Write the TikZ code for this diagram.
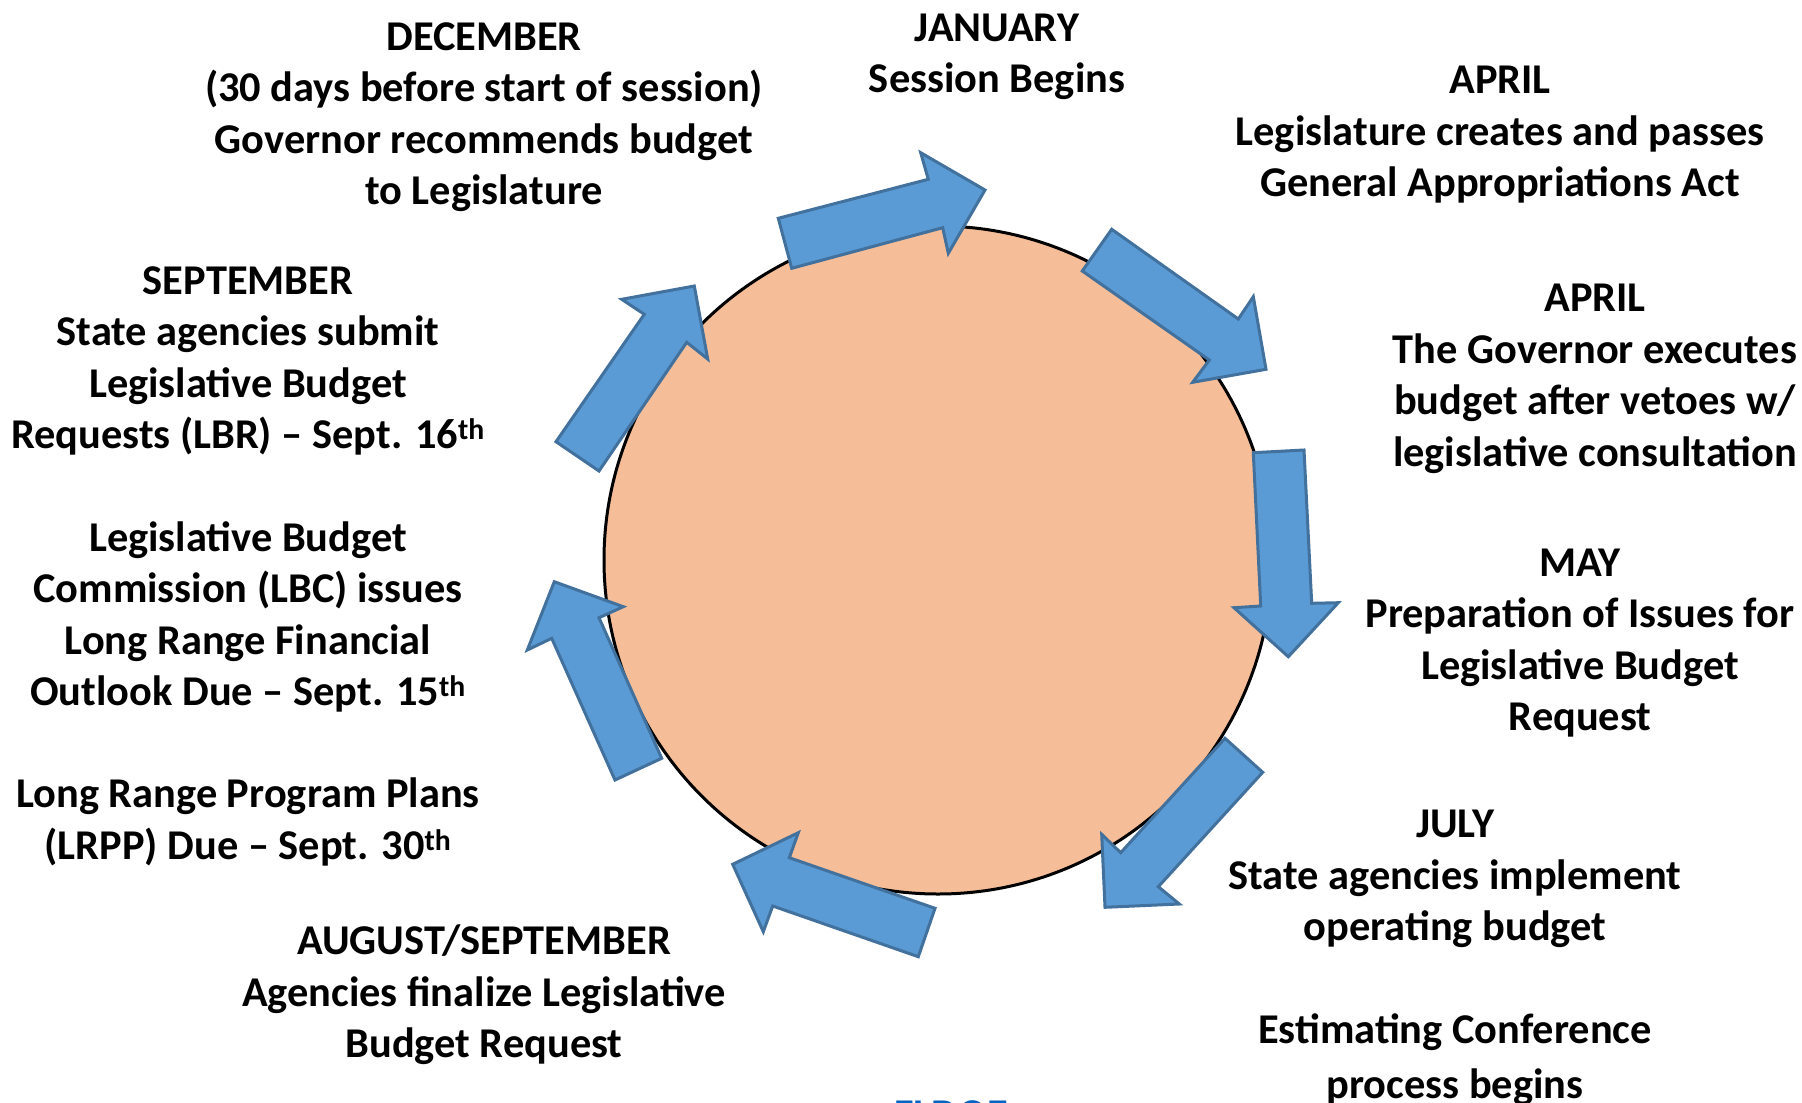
\documentclass[tikz,border=0pt]{standalone}
\usepackage{fontspec}
\setmainfont{Carlito}
\definecolor{peach}{HTML}{F6BE98}
\definecolor{arrowblue}{HTML}{5B9BD5}
\definecolor{arrowedge}{HTML}{41719C}
\definecolor{linkblue}{HTML}{0563C1}
\begin{document}
\begin{tikzpicture}[x=1pt,y=-1pt,
  blockarrow/.style={fill=arrowblue,draw=arrowedge,line width=3pt,line join=miter},
  label/.style={align=center,inner sep=0pt,font=\fontsize{42.4}{51.5}\selectfont\bfseries}]
\useasboundingbox[fill=white] (0,0) rectangle (1802,1103);
% central circle
\node[circle,fill=peach,draw=black,line width=3pt,minimum size=668pt,inner sep=0pt] (cyc) at (938,560) {};
% arrows
\draw[blockarrow] (791.7,268.3) -- (778.3,218.3) -- (928.3,179.3) -- (920.7,152.7) -- (985,190) -- (948.3,253.3) -- (942.7,227.7) -- cycle;
\draw[blockarrow] (1111.7,229.3) -- (1082.3,271) -- (1209.3,360) -- (1192.7,382.3) -- (1266,369.3) -- (1253.3,296.7) -- (1238.3,319) -- cycle;
\draw[blockarrow] (1253.3,452.7) -- (1304,450) -- (1311.7,603.3) -- (1338.3,602.7) -- (1288.3,656.7) -- (1234,607.7) -- (1260.7,606) -- cycle;
\draw[blockarrow] (1225,738.3) -- (1262.7,772.3) -- (1158.3,886.7) -- (1179.3,904) -- (1105,907.3) -- (1101.7,834.3) -- (1120.7,852.7) -- cycle;
\draw[blockarrow] (935,908.3) -- (918.3,956.7) -- (772.7,906) -- (763.3,931.7) -- (732.7,864.3) -- (798.3,832.7) -- (789.3,857.7) -- cycle;
\draw[blockarrow] (615,780) -- (661.7,758.3) -- (599,617.7) -- (623.3,606.7) -- (554.3,581.7) -- (527.3,650) -- (551.7,638.3) -- cycle;
\draw[blockarrow] (556,441.7) -- (599,471) -- (686.7,342.3) -- (707.7,359) -- (694.3,286) -- (621.7,299.3) -- (644.3,314.3) -- cycle;
% labels
\node[label] (dec) at (484,117) {DECEMBER\\(30 days before start of session)\\Governor recommends budget\\to Legislature};
\node[label] (jan) at (997,57) {JANUARY\\Session Begins};
\node[label] (apr1) at (1500,135) {APRIL\\Legislature creates and passes\\General Appropriations Act};
\node[label] (apr2) at (1595,379) {APRIL\\The Governor executes\\budget after vetoes w/\\legislative consultation};
\node[label] (may) at (1580,643) {MAY\\Preparation of Issues for\\Legislative Budget\\Request};
\node[label] (jul) at (1455,879) {JULY\\State agencies implement\\operating budget};
\node[label,font=\fontsize{42.4}{55}\selectfont\bfseries] (est) at (1455,1060) {Estimating Conference\\process begins};
\node[label] (aug) at (484,995) {AUGUST/SEPTEMBER\\Agencies finalize Legislative\\Budget Request};
\node[label] (sep) at (248,361) {SEPTEMBER\\State agencies submit\\Legislative Budget\\Requests (LBR) – Sept. 16\textsuperscript{th}};
\node[label] (lbc) at (248,617) {Legislative Budget\\Commission (LBC) issues\\Long Range Financial\\Outlook Due – Sept. 15\textsuperscript{th}};
\node[label] (lrpp) at (248,822) {Long Range Program Plans\\(LRPP) Due – Sept. 30\textsuperscript{th}};
\node[label,text=linkblue,anchor=base] (fldoe) at (951,1128) {FLDOE};
\end{tikzpicture}
\end{document}
